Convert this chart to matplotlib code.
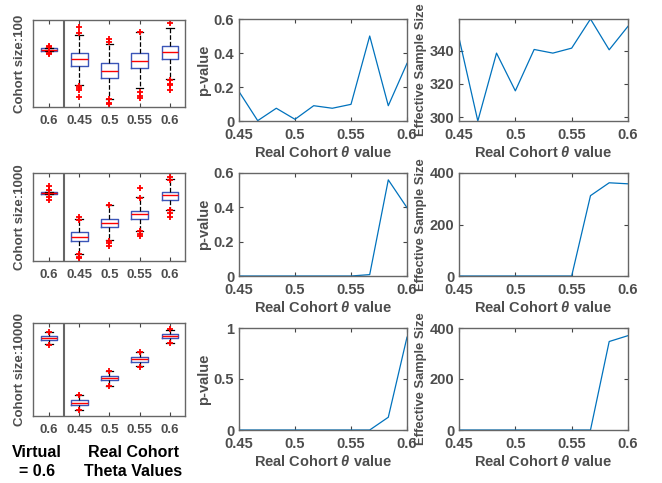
import matplotlib
matplotlib.use('Agg')
from matplotlib import pyplot as plt
import numpy as np

plt.rcParams['font.family'] = ['Liberation Sans', 'DejaVu Sans']
plt.rcParams['font.weight'] = 'bold'
plt.rcParams['mathtext.fontset'] = 'custom'
plt.rcParams['mathtext.it'] = 'Liberation Sans:italic:bold'
plt.rcParams['mathtext.rm'] = 'Liberation Sans:bold'

GRAY = '#4d4d4d'
BLUE = '#0072BD'

# ---- data -------------------------------------------------------------
cohort_sizes = ['100', '1000', '10000']
box_labels = ['0.6', '0.45', '0.5', '0.55', '0.6']

# box stats per row: (median, q1, q3, whisker low, whisker high) in normalised units
box_med = [[0.658, 0.546, 0.419, 0.531, 0.627],
           [0.771, 0.275, 0.435, 0.534, 0.752],
           [0.838, 0.144, 0.404, 0.610, 0.863]]
box_q1 = [[0.642, 0.469, 0.335, 0.450, 0.546],
          [0.756, 0.225, 0.382, 0.473, 0.695],
          [0.816, 0.123, 0.383, 0.585, 0.838]]
box_q3 = [[0.673, 0.623, 0.500, 0.615, 0.704],
          [0.786, 0.328, 0.473, 0.573, 0.786],
          [0.856, 0.170, 0.426, 0.632, 0.880]]
box_wlo = [[0.642, 0.250, 0.092, 0.223, 0.320],
           [0.756, 0.084, 0.237, 0.343, 0.580],
           [0.770, 0.065, 0.325, 0.535, 0.788]]
box_whi = [[0.673, 0.827, 0.723, 0.865, 0.910],
           [0.786, 0.480, 0.637, 0.725, 0.935],
           [0.900, 0.225, 0.482, 0.688, 0.930]]
box_fliers = [
    [[0.70, 0.69, 0.62, 0.61], [0.92, 0.85, 0.24, 0.22, 0.19, 0.115],
     [0.777, 0.75, 0.096, 0.05, 0.03], [0.865, 0.17, 0.13, 0.10],
     [0.96, 0.31, 0.27, 0.25, 0.20]],
    [[0.85, 0.81, 0.73, 0.695], [0.50, 0.47, 0.076, 0.05, 0.03],
     [0.637, 0.23, 0.20, 0.17], [0.83, 0.72, 0.34, 0.31, 0.28],
     [0.96, 0.92, 0.58, 0.54, 0.50]],
    [[0.906, 0.765], [0.23, 0.06], [0.487, 0.32], [0.693, 0.53], [0.935, 0.783]],
]

theta = [0.45, 0.4667, 0.4833, 0.5, 0.5167, 0.5333, 0.55, 0.5667, 0.5833, 0.6]
pvalues = [[0.173, 0.002, 0.075, 0.010, 0.090, 0.075, 0.098, 0.500, 0.090, 0.339],
           [0, 0, 0, 0, 0, 0, 0, 0.008, 0.560, 0.398],
           [0, 0, 0, 0, 0, 0, 0, 0, 0.125, 0.910]]
ess = [[347.8, 297.6, 338.6, 315.8, 340.8, 338.6, 341.6, 359.2, 340.6, 354.8],
       [0, 0, 0, 0, 0, 0, 0, 312, 362, 358],
       [0, 0, 0, 0, 0, 0, 0, 0, 347, 370]]
p_ylims = [(0, 0.6), (0, 0.6), (0, 1)]
p_ticks = [[0, 0.2, 0.4, 0.6], [0, 0.2, 0.4, 0.6], [0, 0.5, 1]]
ess_ticks = [[300, 320, 340], [0, 200, 400], [0, 200, 400]]

# ---- layout -----------------------------------------------------------
W, H = 662, 483
fig = plt.figure(figsize=(W / 100, H / 100), dpi=100)


def rect(l, r, t, b):
    return [l / W, 1 - b / H, (r - l) / W, (b - t) / H]


def style(ax, size):
    for s in ax.spines.values():
        s.set_color('#666666')
        s.set_linewidth(1.0)
    ax.tick_params(direction='in', top=True, right=True, colors='#444444',
                   labelcolor=GRAY, labelsize=size, length=3, width=0.8)
    for lab in ax.get_xticklabels() + ax.get_yticklabels():
        lab.set_fontweight('bold')


box_rows = [(20, 107), (173, 261), (323, 416)]
line_rows = [(19, 121), (173, 276), (328, 430)]
LSIZE = 10.5

for i in range(3):
    # box plots
    ax = fig.add_axes(rect(33, 185, *box_rows[i]))
    stats = []
    for j in range(5):
        stats.append(dict(med=box_med[i][j], q1=box_q1[i][j], q3=box_q3[i][j],
                          whislo=box_wlo[i][j], whishi=box_whi[i][j],
                          fliers=box_fliers[i][j]))
    ax.bxp(stats, positions=range(1, 6), widths=0.55, capwidths=0.25,
           boxprops=dict(color='#3b55b8', linewidth=1.0),
           medianprops=dict(color='red', linewidth=1.0),
           whiskerprops=dict(color='black', linestyle='--', linewidth=0.9),
           capprops=dict(color='black', linewidth=0.9),
           flierprops=dict(marker='+', markeredgecolor='red', markersize=5,
                           markeredgewidth=1.3, linestyle='none'))
    ax.axvline(1.5, color='#666666', linewidth=1.5)
    ax.set_xlim(0.47, 5.5)
    ax.set_ylim(0, 1)
    ax.set_yticks([])
    ax.set_xticks(range(1, 6))
    ax.set_xticklabels(box_labels)
    ax.set_ylabel('Cohort size:' + cohort_sizes[i], fontsize=9.5,
                  fontweight='bold', color=GRAY, labelpad=5)
    style(ax, 9.5)
    ax.tick_params(right=False, left=False, pad=6)

    # p-value
    ax = fig.add_axes(rect(239, 407, *line_rows[i]))
    ax.plot(theta, pvalues[i], color=BLUE, linewidth=0.9)
    ax.set_xlim(0.45, 0.6)
    ax.set_ylim(*p_ylims[i])
    ax.set_xticks([0.45, 0.5, 0.55, 0.6])
    ax.set_xticklabels(['0.45', '0.5', '0.55', '0.6'])
    ax.set_yticks(p_ticks[i])
    ax.set_yticklabels([('%g' % v) for v in p_ticks[i]])
    ax.set_ylabel('p-value', fontsize=LSIZE, fontweight='bold', color=GRAY,
                  labelpad=2)
    ax.set_xlabel(r'Real Cohort $\theta$ value', fontsize=LSIZE,
                  fontweight='bold', color=GRAY, labelpad=2)
    style(ax, LSIZE)
    ax.tick_params(axis='x', pad=5)

    # effective sample size
    ax = fig.add_axes(rect(459, 628, *line_rows[i]))
    ax.plot(theta, ess[i], color=BLUE, linewidth=0.9)
    ax.set_xlim(0.45, 0.6)
    if i == 0:
        ax.set_ylim(min(ess[i]), max(ess[i]))
    else:
        ax.set_ylim(0, 400)
    ax.set_xticks([0.45, 0.5, 0.55, 0.6])
    ax.set_xticklabels(['0.45', '0.5', '0.55', '0.6'])
    ax.set_yticks(ess_ticks[i])
    ax.set_ylabel('Effective Sample Size', fontsize=9.3, fontweight='bold',
                  color=GRAY)
    ax.yaxis.set_label_coords(-32 / 169, 0.5)
    ax.set_xlabel(r'Real Cohort $\theta$ value', fontsize=LSIZE,
                  fontweight='bold', color=GRAY, labelpad=2)
    style(ax, LSIZE)
    ax.tick_params(axis='x', pad=5)

fig.text(37 / W, 1 - 462 / H, 'Virtual\n= 0.6', ha='center', va='center',
         fontsize=11.5, fontweight='bold', linespacing=1.35)
fig.text(133 / W, 1 - 462 / H, 'Real Cohort\nTheta Values', ha='center',
         va='center', fontsize=11.5, fontweight='bold', linespacing=1.35)

fig.savefig('out.png', dpi=100)
